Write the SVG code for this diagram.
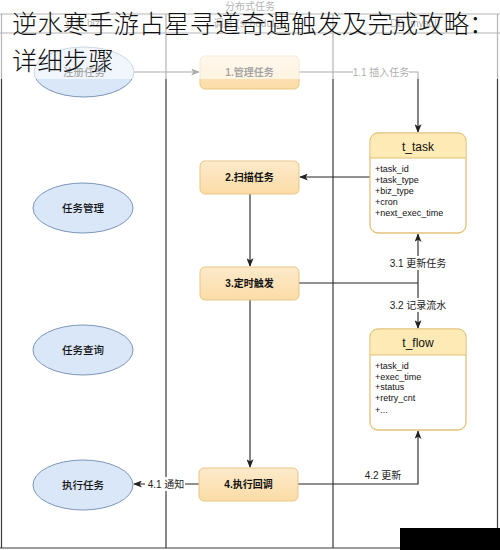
<svg xmlns="http://www.w3.org/2000/svg" width="500" height="550" viewBox="0 0 500 550">
<style>
.lane{stroke:#3a3a3a;stroke-width:1.2;fill:none}
.hdr{font-family:"Liberation Sans","Noto Sans CJK SC",sans-serif;font-size:10px;fill:#333;text-anchor:middle}
.ell{fill:#d9e7f9;stroke:#7d95b8;stroke-width:1}
.etx{font-family:"Liberation Sans","Noto Sans CJK SC",sans-serif;font-size:10.5px;fill:#111;text-anchor:middle;font-weight:500}
.box{fill:url(#gb);stroke:#e6c787;stroke-width:1}
.btx{font-family:"Liberation Sans","Noto Sans CJK SC",sans-serif;font-size:10px;fill:#111;text-anchor:middle;font-weight:bold}
.tbl{fill:#fff;stroke:#e2c275;stroke-width:1.3}
.thd{fill:#fdeab4}
.ttl{font-family:"Liberation Sans",sans-serif;font-size:12px;fill:#111;text-anchor:middle}
.fld{font-family:"Liberation Sans",sans-serif;font-size:9px;fill:#111}
.con{stroke:#222;stroke-width:1.1;fill:none}
.lbl{font-family:"Liberation Sans","Noto Sans CJK SC",sans-serif;font-size:10px;fill:#222;text-anchor:middle}
.ttlbig{font-family:"Noto Sans CJK SC",sans-serif;font-size:25.4px;font-weight:300;fill:#111}
</style>
<defs>
<linearGradient id="gb" x1="0" y1="0" x2="0" y2="1">
<stop offset="0" stop-color="#fdeacb"/>
<stop offset="1" stop-color="#fbdca6"/>
</linearGradient>
<marker id="arr" viewBox="0 0 10 8" refX="9" refY="4" markerWidth="9" markerHeight="7" orient="auto" markerUnits="userSpaceOnUse">
<path d="M0,0 L10,4 L0,8 L2.5,4 z" fill="#222"/>
</marker>
</defs>
<rect width="500" height="550" fill="#fff"/>
<g id="pool">
<line class="lane" x1="0" y1="14" x2="500" y2="14"/>
<line class="lane" x1="0" y1="33" x2="500" y2="33"/>
<line class="lane" x1="1.5" y1="14" x2="1.5" y2="548"/>
<line class="lane" x1="166" y1="14" x2="166" y2="548"/>
<line class="lane" x1="333" y1="14" x2="333" y2="548"/>
<line class="lane" x1="497.5" y1="14" x2="497.5" y2="548"/>
<line class="lane" x1="0" y1="548" x2="500" y2="548"/>
<text class="hdr" x="250" y="10" font-size="9">分布式任务</text>
<text class="hdr" x="82" y="27">业务 biz</text>
<text class="hdr" x="250" y="27">调度 (scheduler)</text>
<text class="hdr" x="415" y="27">DB (mysql)</text>
</g>
<g id="connectors">
<line class="con" x1="134" y1="72" x2="199" y2="72" marker-end="url(#arr)"/>
<polyline class="con" points="299,72 418,72 418,132" marker-end="url(#arr)"/>
<rect x="353" y="65" width="56" height="14" fill="#fff"/>
<text class="lbl" x="381" y="76">1.1 插入任务</text>
<line class="con" x1="370" y1="177" x2="300" y2="177" marker-end="url(#arr)"/>
<line class="con" x1="250" y1="194" x2="250" y2="266" marker-end="url(#arr)"/>
<line class="con" x1="299" y1="283" x2="418" y2="283"/>
<line class="con" x1="418" y1="283" x2="418" y2="234" marker-end="url(#arr)"/>
<line class="con" x1="418" y1="283" x2="418" y2="328" marker-end="url(#arr)"/>
<rect x="389" y="256" width="58" height="14" fill="#fff"/>
<text class="lbl" x="418" y="267">3.1 更新任务</text>
<rect x="389" y="298" width="58" height="14" fill="#fff"/>
<text class="lbl" x="418" y="309">3.2 记录流水</text>
<line class="con" x1="250" y1="300" x2="250" y2="467" marker-end="url(#arr)"/>
<line class="con" x1="199" y1="484" x2="134" y2="484" marker-end="url(#arr)"/>
<rect x="145" y="477" width="40" height="14" fill="#fff"/>
<text class="lbl" x="166" y="488">4.1 通知</text>
<polyline class="con" points="298,484 418,484 418,431" marker-end="url(#arr)"/>
<text class="lbl" x="383" y="479">4.2 更新</text>
</g>
<g id="n-register">
<ellipse class="ell" cx="84" cy="72" rx="50" ry="25"/>
<text class="etx" x="84" y="76">注册任务</text>
</g>
<g id="n-manage-ell">
<ellipse class="ell" cx="83" cy="208" rx="50" ry="25"/>
<text class="etx" x="83" y="212">任务管理</text>
</g>
<g id="n-query">
<ellipse class="ell" cx="83" cy="350" rx="50" ry="25"/>
<text class="etx" x="83" y="354">任务查询</text>
</g>
<g id="n-exec">
<ellipse class="ell" cx="83" cy="485" rx="50" ry="25"/>
<text class="etx" x="83" y="489">执行任务</text>
</g>
<g id="b1">
<rect class="box" x="200" y="56" width="99" height="33" rx="5"/>
<text class="btx" x="249.5" y="76" font-weight="normal">1.管理任务</text>
</g>
<g id="b2">
<rect class="box" x="200" y="161" width="99" height="33" rx="5"/>
<text class="btx" x="249.5" y="181">2.扫描任务</text>
</g>
<g id="b3">
<rect class="box" x="200" y="267" width="99" height="33" rx="5"/>
<text class="btx" x="249.5" y="287">3.定时触发</text>
</g>
<g id="b4">
<rect class="box" x="199" y="468" width="99" height="33" rx="5"/>
<text class="btx" x="248.5" y="488">4.执行回调</text>
</g>
<g id="t_task">
<rect class="tbl" x="370" y="133" width="96" height="100" rx="8"/>
<path class="thd" d="M378,133.7 H458 A7.3,7.3 0 0 1 465.3,141 V158 H370.7 V141 A7.3,7.3 0 0 1 378,133.7 z"/>
<line x1="370" y1="158" x2="466" y2="158" stroke="#e2c275" stroke-width="1.2"/>
<text class="ttl" x="418" y="151">t_task</text>
<text class="fld" x="375" y="172">+task_id</text>
<text class="fld" x="375" y="183">+task_type</text>
<text class="fld" x="375" y="194">+biz_type</text>
<text class="fld" x="375" y="205">+cron</text>
<text class="fld" x="375" y="216">+next_exec_time</text>
</g>
<g id="t_flow">
<rect class="tbl" x="370" y="329" width="96" height="101" rx="8"/>
<path class="thd" d="M378,329.7 H458 A7.3,7.3 0 0 1 465.3,337 V355 H370.7 V337 A7.3,7.3 0 0 1 378,329.7 z"/>
<line x1="370" y1="355" x2="466" y2="355" stroke="#e2c275" stroke-width="1.2"/>
<text class="ttl" x="418" y="347">t_flow</text>
<text class="fld" x="375" y="369">+task_id</text>
<text class="fld" x="375" y="380">+exec_time</text>
<text class="fld" x="375" y="390">+status</text>
<text class="fld" x="375" y="401">+retry_cnt</text>
<text class="fld" x="375" y="413">+...</text>
</g>
<rect x="0" y="0" width="500" height="79" fill="#fff" opacity="0.62"/>
<rect x="400" y="528" width="100" height="22" fill="#000"/>
<g id="title">
<text class="ttlbig" x="12" y="33">逆水寒手游占星寻道奇遇触发及完成攻略：</text>
<text class="ttlbig" x="12" y="70">详细步骤</text>
</g>
</svg>
